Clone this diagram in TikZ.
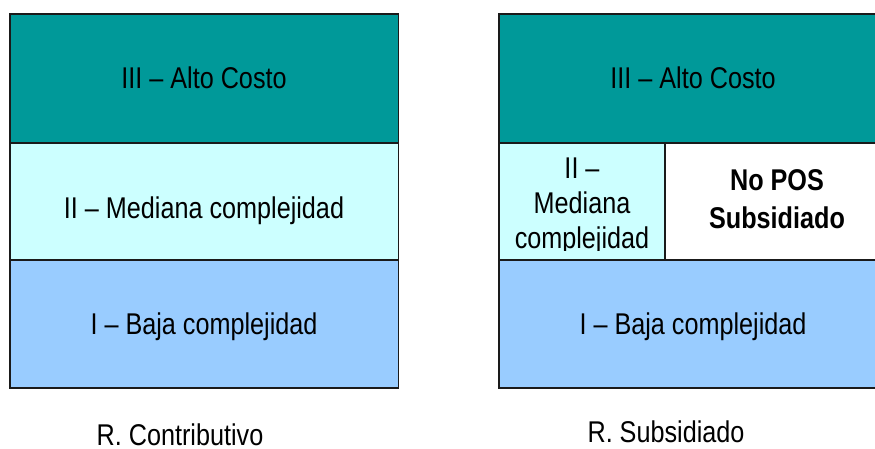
\documentclass[tikz,border=0pt]{standalone}
\usepackage{fontspec}
\setmainfont[FakeStretch=0.84]{Liberation Sans}
\definecolor{alto}{HTML}{009999}
\definecolor{mediana}{HTML}{CCFFFF}
\definecolor{baja}{HTML}{99CCFF}
\definecolor{edge}{HTML}{1A1A1A}
\tikzset{
  cell/.style={draw=edge, line width=1.5pt, inner sep=0pt, outer sep=0pt, anchor=north west},
  lbl/.style={inner sep=0pt, anchor=base, font=\fontsize{30}{36}\selectfont},
  blbl/.style={lbl, font=\fontsize{30}{36}\selectfont\bfseries},
  caplbl/.style={lbl, text depth=0pt},
}
\begin{document}
\begin{tikzpicture}[x=1pt,y=-1pt]
\useasboundingbox (0,0) rectangle (875,448);
\clip (0,0) rectangle (875,448);
\fill[white] (0,0) rectangle (875,448);
% left panel
\node[cell, fill=alto, minimum width=388.5pt, minimum height=129pt] (l3) at (10,14) {};
\node[cell, fill=mediana, minimum width=388.5pt, minimum height=117pt] (l2) at (10,143) {};
\node[cell, fill=baja, minimum width=388.5pt, minimum height=128pt] (l1) at (10,260) {};
\node[lbl] (t3) at (204,88) {III – Alto Costo};
\node[lbl] (t2) at (204,218) {II – Mediana complejidad};
\node[lbl] (t1) at (204,334) {I – Baja complejidad};
\node[caplbl] (cap1) at (180,445) {R. Contributivo};
% right panel
\node[cell, fill=alto, minimum width=388pt, minimum height=129pt] (r3) at (499,14) {};
\node[cell, fill=mediana, minimum width=166pt, minimum height=117pt] (r2) at (499,143) {};
\node[cell, fill=white, minimum width=222pt, minimum height=117pt] (rn) at (665,143) {};
\node[cell, fill=baja, minimum width=388pt, minimum height=128pt] (r1) at (499,260) {};
\node[lbl] (s3) at (693,88) {III – Alto Costo};
\begin{scope}
\clip (499,143) rectangle (665,250);
\node[lbl] (s2a) at (582,178) {II –};
\node[lbl] (s2b) at (582,213) {Mediana};
\node[lbl] (s2c) at (582,248) {complejidad};
\end{scope}
\node[blbl] (na) at (777,190) {No POS};
\node[blbl] (nb) at (777,228) {Subsidiado};
\node[lbl] (s1) at (693,334) {I – Baja complejidad};
\node[caplbl] (cap2) at (666,442) {R. Subsidiado};
\end{tikzpicture}
\end{document}
